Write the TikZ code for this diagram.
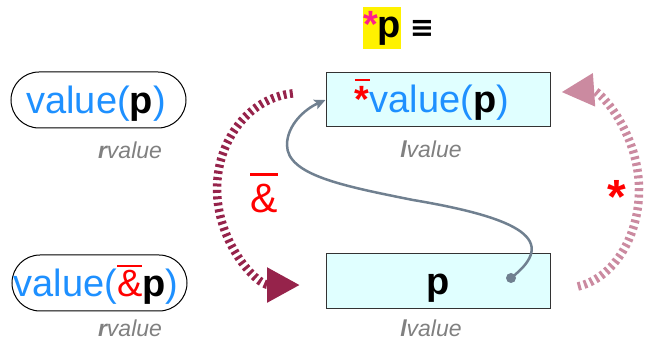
\documentclass[tikz,border=0pt]{standalone}
\usepackage{fontspec}
\setmainfont{Liberation Sans}
\newfontfamily\djv{DejaVu Sans}
\usetikzlibrary{arrows.meta}
\definecolor{vblue}{RGB}{30,144,255}
\definecolor{dmaroon}{RGB}{150,35,75}
\definecolor{lpink}{RGB}{203,138,160}
\definecolor{slate}{RGB}{112,128,144}
\definecolor{boxfill}{RGB}{224,255,255}
\definecolor{hotpink}{RGB}{255,30,140}
\definecolor{lblgray}{RGB}{128,128,128}
\newsavebox\ovbox
\newcommand\ovbar[2]{\sbox\ovbox{#2}\rlap{\raise\dimexpr\ht\ovbox+#1\relax\hbox{\rule{\wd\ovbox}{2.6pt}}}\usebox\ovbox}
\tikzset{
  rbox/.style={draw=black, line width=1pt, rounded corners=28pt, minimum width=175pt, minimum height=56pt, inner sep=0pt},
  lbox/.style={draw=black!80, fill=boxfill, line width=1pt, minimum width=224pt, minimum height=54pt, inner sep=0pt},
  bigtxt/.style={font=\fontsize{38}{40}\selectfont, inner sep=0pt, anchor=base},
  lbl/.style={font=\fontsize{23}{25}\selectfont\itshape, text=lblgray, inner sep=0pt, anchor=base},
  tickarc/.style={line width=8.5pt, dash pattern=on 3pt off 3.4pt},
}
\begin{document}
\begin{tikzpicture}[x=1pt,y=1pt]
\useasboundingbox (0,0) rectangle (645,342);
% title
\node[fill=yellow, minimum width=38pt, minimum height=42pt, inner sep=0pt] (hl) at (382,314) {};
\node[bigtxt] (ttl) at (382,304) {\textbf{\textcolor{hotpink}{*}p}};
\node[font=\djv\bfseries\fontsize{29}{30}\selectfont, inner sep=0pt] (eqv) at (422,313.5) {≡};
% left boxes
\node[rbox] (ra) at (98.5,242) {};
\node[bigtxt] (rat) at (96,228) {\textcolor{vblue}{value(}\textbf{p}\textcolor{vblue}{)}};
\node[lbl] (ral) at (130,183) {\textbf{r}value};
\node[rbox] (rb) at (99.5,59) {};
\node[bigtxt] (rbt) at (96,45) {\textcolor{vblue}{value(}\textcolor{red}{\ovbar{3.5pt}{\&}}\textbf{p}\textcolor{vblue}{)}};
\node[lbl] (rbl) at (130,5) {\textbf{r}value};
% right boxes
\node[lbox] (la) at (438,242) {};
\node[bigtxt] (lat) at (432,229) {\textcolor{red}{\ovbar{5.5pt}{\textbf{*}}}\textcolor{vblue}{value(}\textbf{p}\textcolor{vblue}{)}};
\node[lbl] (lal) at (431,184) {\textbf{l}value};
\node[lbox, minimum height=55pt] (lb) at (438,60.5) {};
\node[bigtxt] (lbt) at (438,47) {\textbf{p}};
\node[lbl] (lbl2) at (431,5) {\textbf{l}value};
% operator labels
\node[font=\fontsize{41}{44}\selectfont, text=red, inner sep=0pt, anchor=base] (amp) at (264,129) {\ovbar{9pt}{\&}};
\node[font=\bfseries\fontsize{48}{50}\selectfont, text=red, inner sep=0pt, anchor=base] (star) at (617,128.5) {*};
% arcs
\coordinate (dstart) at (292.8,248.6);
\draw[tickarc, draw=dmaroon, -{Triangle[length=33pt,width=33pt]}]
  (dstart) arc[start angle=95, end angle=270, x radius=83, y radius=96];
\coordinate (pstart) at (577.85,55.5);
\draw[tickarc, draw=lpink, -{Triangle[length=33pt,width=31pt]}]
  (pstart) arc[start angle=-80, end angle=93, x radius=74, y radius=98];
% pointer curve
\node[circle, fill=slate, inner sep=0pt, minimum size=10pt] (dot) at (511,64) {};
\draw[slate, line width=2.5pt, -{Stealth[length=11pt,width=10pt,inset=2pt]}]
  (dot.center) .. controls (560,102) and (520,124) .. (413,142)
  .. controls (343,156) and (287,167) .. (287,197)
  .. controls (287,217) and (305,233) .. (la.west);
\end{tikzpicture}
\end{document}
